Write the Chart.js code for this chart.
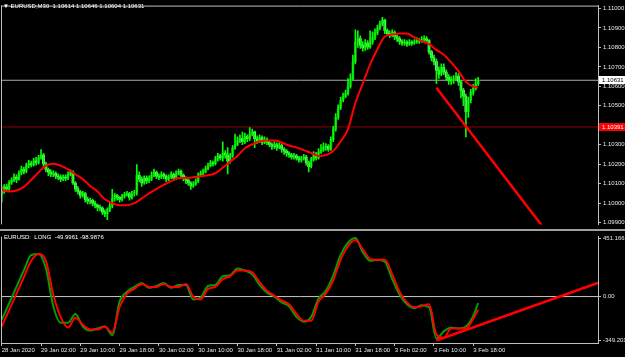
<!DOCTYPE html>
<html>
<head>
<meta charset="utf-8">
<script src="https://cdn.jsdelivr.net/npm/chart.js@4/dist/chart.umd.min.js"></script>
<style>
body { margin: 0; background: #000; width: 625px; height: 357px; overflow: hidden; position: relative; font-family: "Liberation Sans", Arial, sans-serif; }
#priceCanvas { position: absolute; left: 0; top: 0; }
#oscCanvas { position: absolute; left: 0; top: 231px; }
.sep { position: absolute; left: 0; top: 229px; width: 625px; height: 2px; background: #a0a0a0; }
.hdr { position: absolute; color: #fff; font-size: 6px; line-height: 7px; white-space: pre; }
</style>
</head>
<body>
<canvas id="priceCanvas" width="625" height="230"></canvas>
<div class="sep"></div>
<canvas id="oscCanvas" width="625" height="126"></canvas>
<div class="hdr" style="left:3px;top:3px">▼ EURUSD,M30  1.10614 1.10646 1.10604 1.10631</div>
<div class="hdr" style="left:4px;top:234px">EURUSD:  LONG  -49.9961 -98.9876</div>
<script>
// M30 bars, index 0 = 28 Jan 18:00
const opens = [
  1.10045, 1.10063, 1.10083, 1.10073, 1.10103, 1.10118, 1.10133, 1.10123, 1.10153, 1.10173,
  1.10163, 1.10192, 1.10202, 1.10197, 1.10217, 1.10207, 1.10232, 1.10247, 1.10202, 1.10173,
  1.10158, 1.10148, 1.10153, 1.10138, 1.10133, 1.10123, 1.10133, 1.10128, 1.10148, 1.10158,
  1.10103, 1.10073, 1.10058, 1.10039, 1.10049, 1.10019, 1.10009, 1.10014, 1.09999, 1.09989,
  1.09979, 1.09974, 1.09954, 1.09945, 1.09964, 1.09984, 1.10024, 1.10039, 1.10029, 1.10019,
  1.10034, 1.10044, 1.10049, 1.10029, 1.10049, 1.10054, 1.10143, 1.10123, 1.10103, 1.10128,
  1.10113, 1.10123, 1.10143, 1.10158, 1.10138, 1.10133, 1.10148, 1.10138, 1.10123, 1.10133,
  1.10148, 1.10128, 1.10153, 1.10163, 1.10143, 1.10128, 1.10118, 1.10103, 1.10088, 1.10098,
  1.10113, 1.10143, 1.10153, 1.10163, 1.10177, 1.10192, 1.10207, 1.10202, 1.10227, 1.10242,
  1.10232, 1.10257, 1.10247, 1.10217, 1.10242, 1.10282, 1.10301, 1.10321, 1.10331, 1.10316,
  1.10341, 1.10331, 1.10356, 1.10366, 1.10331, 1.10321, 1.10336, 1.10311, 1.10326, 1.10311,
  1.10301, 1.10291, 1.10301, 1.10286, 1.10296, 1.10277, 1.10267, 1.10257, 1.10247, 1.10237,
  1.10242, 1.10232, 1.10222, 1.10227, 1.10237, 1.10207, 1.10187, 1.10222, 1.10247, 1.10232,
  1.10262, 1.10272, 1.10286, 1.10291, 1.10277, 1.10326, 1.10381, 1.10440, 1.10490, 1.10529,
  1.10549, 1.10564, 1.10599, 1.10638, 1.10727, 1.10827, 1.10846, 1.10812, 1.10797, 1.10822,
  1.10802, 1.10827, 1.10851, 1.10876, 1.10901, 1.10921, 1.10941, 1.10886, 1.10871, 1.10861,
  1.10876, 1.10856, 1.10846, 1.10832, 1.10822, 1.10827, 1.10817, 1.10827, 1.10822, 1.10827,
  1.10836, 1.10832, 1.10841, 1.10846, 1.10836, 1.10777, 1.10747, 1.10727, 1.10683, 1.10663,
  1.10698, 1.10673, 1.10648, 1.10633, 1.10628, 1.10638, 1.10653, 1.10623, 1.10579, 1.10549,
  1.10470, 1.10529, 1.10569, 1.10589, 1.10614
]
const highs = [
  1.10085, 1.10095, 1.10098, 1.10115, 1.10130, 1.10150, 1.10145, 1.10165, 1.10190, 1.10185,
  1.10205, 1.10220, 1.10215, 1.10230, 1.10235, 1.10245, 1.10275, 1.10255, 1.10210, 1.10180,
  1.10170, 1.10165, 1.10160, 1.10150, 1.10145, 1.10145, 1.10145, 1.10160, 1.10170, 1.10165,
  1.10110, 1.10085, 1.10065, 1.10060, 1.10055, 1.10030, 1.10025, 1.10020, 1.10010, 1.09995,
  1.09990, 1.09980, 1.09965, 1.09975, 1.10000, 1.10070, 1.10050, 1.10045, 1.10035, 1.10045,
  1.10055, 1.10060, 1.10055, 1.10060, 1.10065, 1.10197, 1.10160, 1.10135, 1.10140, 1.10140,
  1.10140, 1.10160, 1.10175, 1.10165, 1.10150, 1.10160, 1.10155, 1.10145, 1.10145, 1.10160,
  1.10155, 1.10165, 1.10175, 1.10170, 1.10150, 1.10135, 1.10125, 1.10110, 1.10110, 1.10125,
  1.10155, 1.10165, 1.10175, 1.10190, 1.10205, 1.10220, 1.10215, 1.10240, 1.10255, 1.10250,
  1.10315, 1.10270, 1.10285, 1.10255, 1.10295, 1.10355, 1.10340, 1.10350, 1.10365, 1.10360,
  1.10350, 1.10388, 1.10380, 1.10370, 1.10345, 1.10350, 1.10345, 1.10340, 1.10335, 1.10320,
  1.10310, 1.10315, 1.10310, 1.10310, 1.10305, 1.10285, 1.10275, 1.10265, 1.10255, 1.10255,
  1.10250, 1.10240, 1.10240, 1.10250, 1.10245, 1.10215, 1.10235, 1.10265, 1.10260, 1.10280,
  1.10300, 1.10310, 1.10305, 1.10300, 1.10340, 1.10395, 1.10460, 1.10505, 1.10545, 1.10565,
  1.10580, 1.10640, 1.10665, 1.10760, 1.10890, 1.10885, 1.10860, 1.10830, 1.10840, 1.10835,
  1.10885, 1.10880, 1.10895, 1.10915, 1.10935, 1.10955, 1.10945, 1.10895, 1.10885, 1.10890,
  1.10885, 1.10865, 1.10855, 1.10840, 1.10840, 1.10835, 1.10840, 1.10835, 1.10840, 1.10850,
  1.10845, 1.10855, 1.10860, 1.10855, 1.10840, 1.10785, 1.10760, 1.10740, 1.10700, 1.10715,
  1.10715, 1.10685, 1.10660, 1.10650, 1.10655, 1.10670, 1.10665, 1.10630, 1.10590, 1.10560,
  1.10545, 1.10585, 1.10610, 1.10640, 1.10646
]
const lows = [
  1.10005, 1.10050, 1.10060, 1.10065, 1.10095, 1.10110, 1.10105, 1.10118, 1.10145, 1.10150,
  1.10155, 1.10180, 1.10185, 1.10190, 1.10195, 1.10200, 1.10225, 1.10190, 1.10160, 1.10140,
  1.10135, 1.10135, 1.10125, 1.10120, 1.10110, 1.10115, 1.10115, 1.10120, 1.10140, 1.10095,
  1.10060, 1.10045, 1.10025, 1.10030, 1.10005, 1.09995, 1.09995, 1.09985, 1.09975, 1.09960,
  1.09960, 1.09940, 1.09930, 1.09915, 1.09955, 1.09975, 1.10010, 1.10015, 1.10005, 1.10010,
  1.10025, 1.10035, 1.10015, 1.10020, 1.10035, 1.10040, 1.10110, 1.10085, 1.10095, 1.10100,
  1.10105, 1.10115, 1.10135, 1.10125, 1.10120, 1.10125, 1.10125, 1.10110, 1.10115, 1.10125,
  1.10115, 1.10120, 1.10145, 1.10130, 1.10115, 1.10100, 1.10090, 1.10070, 1.10080, 1.10090,
  1.10105, 1.10135, 1.10145, 1.10155, 1.10170, 1.10185, 1.10190, 1.10195, 1.10215, 1.10220,
  1.10215, 1.10230, 1.10150, 1.10205, 1.10235, 1.10275, 1.10295, 1.10310, 1.10300, 1.10305,
  1.10315, 1.10320, 1.10345, 1.10285, 1.10305, 1.10310, 1.10300, 1.10305, 1.10300, 1.10290,
  1.10275, 1.10280, 1.10270, 1.10280, 1.10260, 1.10250, 1.10240, 1.10235, 1.10225, 1.10225,
  1.10220, 1.10210, 1.10210, 1.10220, 1.10195, 1.10160, 1.10180, 1.10215, 1.10220, 1.10225,
  1.10255, 1.10265, 1.10270, 1.10265, 1.10270, 1.10315, 1.10370, 1.10430, 1.10480, 1.10520,
  1.10540, 1.10555, 1.10590, 1.10630, 1.10715, 1.10800, 1.10795, 1.10780, 1.10785, 1.10790,
  1.10795, 1.10815, 1.10840, 1.10865, 1.10890, 1.10910, 1.10870, 1.10860, 1.10850, 1.10855,
  1.10840, 1.10830, 1.10815, 1.10810, 1.10810, 1.10805, 1.10810, 1.10810, 1.10815, 1.10820,
  1.10820, 1.10825, 1.10830, 1.10825, 1.10765, 1.10730, 1.10710, 1.10615, 1.10640, 1.10655,
  1.10660, 1.10630, 1.10610, 1.10610, 1.10615, 1.10630, 1.10605, 1.10540, 1.10500, 1.10340,
  1.10440, 1.10515, 1.10555, 1.10580, 1.10604
]
const closes = [
  1.10063, 1.10083, 1.10073, 1.10103, 1.10118, 1.10133, 1.10123, 1.10153, 1.10173, 1.10163,
  1.10192, 1.10202, 1.10197, 1.10217, 1.10207, 1.10232, 1.10247, 1.10202, 1.10173, 1.10158,
  1.10148, 1.10153, 1.10138, 1.10133, 1.10123, 1.10133, 1.10128, 1.10148, 1.10158, 1.10103,
  1.10073, 1.10058, 1.10039, 1.10049, 1.10019, 1.10009, 1.10014, 1.09999, 1.09989, 1.09979,
  1.09974, 1.09954, 1.09945, 1.09964, 1.09984, 1.10024, 1.10039, 1.10029, 1.10019, 1.10034,
  1.10044, 1.10049, 1.10029, 1.10049, 1.10054, 1.10143, 1.10123, 1.10103, 1.10128, 1.10113,
  1.10123, 1.10143, 1.10158, 1.10138, 1.10133, 1.10148, 1.10138, 1.10123, 1.10133, 1.10148,
  1.10128, 1.10153, 1.10163, 1.10143, 1.10128, 1.10118, 1.10103, 1.10088, 1.10098, 1.10113,
  1.10143, 1.10153, 1.10163, 1.10177, 1.10192, 1.10207, 1.10202, 1.10227, 1.10242, 1.10232,
  1.10257, 1.10247, 1.10217, 1.10242, 1.10282, 1.10301, 1.10321, 1.10331, 1.10316, 1.10341,
  1.10331, 1.10356, 1.10366, 1.10331, 1.10321, 1.10336, 1.10311, 1.10326, 1.10311, 1.10301,
  1.10291, 1.10301, 1.10286, 1.10296, 1.10277, 1.10267, 1.10257, 1.10247, 1.10237, 1.10242,
  1.10232, 1.10222, 1.10227, 1.10237, 1.10207, 1.10187, 1.10222, 1.10247, 1.10232, 1.10262,
  1.10272, 1.10286, 1.10291, 1.10277, 1.10326, 1.10381, 1.10440, 1.10490, 1.10529, 1.10549,
  1.10564, 1.10599, 1.10638, 1.10727, 1.10827, 1.10846, 1.10812, 1.10797, 1.10822, 1.10802,
  1.10827, 1.10851, 1.10876, 1.10901, 1.10921, 1.10941, 1.10886, 1.10871, 1.10861, 1.10876,
  1.10856, 1.10846, 1.10832, 1.10822, 1.10827, 1.10817, 1.10827, 1.10822, 1.10827, 1.10836,
  1.10832, 1.10841, 1.10846, 1.10836, 1.10777, 1.10747, 1.10727, 1.10683, 1.10663, 1.10698,
  1.10673, 1.10648, 1.10633, 1.10628, 1.10638, 1.10653, 1.10623, 1.10579, 1.10549, 1.10470,
  1.10529, 1.10569, 1.10589, 1.10614, 1.10631
]

// moving average and oscillator, read every 3rd bar
const maValues = [
  1.10068, 1.10059, 1.10064, 1.10083, 1.10118, 1.10158, 1.10192, 1.10202, 1.10192, 1.10173,
  1.10148, 1.10123, 1.10088, 1.10059, 1.10019, 1.09999, 1.09989, 1.09989, 1.09999, 1.10024,
  1.10049, 1.10073, 1.10093, 1.10113, 1.10128, 1.10128, 1.10133, 1.10138, 1.10143, 1.10153,
  1.10182, 1.10212, 1.10242, 1.10282, 1.10301, 1.10316, 1.10321, 1.10321, 1.10311, 1.10296,
  1.10286, 1.10272, 1.10257, 1.10242, 1.10247, 1.10267, 1.10316, 1.10380, 1.10514, 1.10614,
  1.10713, 1.10792, 1.10856, 1.10866, 1.10871, 1.10871, 1.10851, 1.10832, 1.10817, 1.10787,
  1.10762, 1.10723, 1.10678, 1.10623, 1.10599, 1.10594
]
const greenOsc = [
  -174.6, -50.9, 72.8, 196.5, 312.9, 320.1, 211.0, -72.8, -196.5, -196.5,
  -131.0, -225.6, -254.7, -240.1, -225.6, -290.0, -36.4, 36.4, 72.8, 101.9,
  65.5, 80.0, 101.9, 65.5, 87.3, 87.3, -21.8, -7.3, 80.0, 87.3,
  152.8, 160.1, 211.0, 196.5, 167.3, 87.3, 29.1, 0, -43.7, -72.8,
  -152.8, -189.2, -152.8, -14.6, 43.7, 160.1, 312.9, 405.0, 440.0, 334.7,
  269.2, 276.5, 261.9, 131.0, 14.6, -58.2, -87.3, -65.5, -80.0, -315.0,
  -262.0, -232.8, -240.1, -225.6, -145.5, -49.9961
]
const redOsc = [
  -225.6, -101.9, 21.8, 145.5, 269.2, 320.1, 269.2, 14.6, -152.8, -232.8,
  -160.1, -211.0, -247.4, -247.4, -225.6, -270.0, -80.0, 21.8, 58.2, 94.6,
  72.8, 72.8, 94.6, 72.8, 72.8, 94.6, 0, -21.8, 58.2, 72.8,
  131.0, 152.8, 196.5, 196.5, 181.9, 109.1, 43.7, 7.3, -29.1, -58.2,
  -131.0, -181.9, -181.9, -36.4, 21.8, 123.7, 276.5, 378.4, 425.0, 356.5,
  283.8, 276.5, 276.5, 167.3, 36.4, -43.7, -80.0, -72.8, -58.2, -285.0,
  -310.0, -240.1, -240.1, -240.1, -167.3, -98.9876
]

const bidPrice = 1.10631
const levelPrice = 1.10391
const priceTrend = [{x: 177, y: 1.10592}, {x: 222, y: 1.09850}]
const oscTrend = [{x: 177, y: -330}, {x: 243, y: 104}]

const priceTicks = [1.11, 1.109, 1.108, 1.107, 1.106, 1.105, 1.104, 1.103, 1.102, 1.101, 1.100, 1.099]
const oscTickValues = [434.4, 0, -332.5]
const oscTickLabels = ['451.166', '0.00', '-349.201']
const timeBars = [0, 16, 32, 48, 64, 80, 96, 112, 128, 144, 160, 176, 192]
const timeLabels = ['28 Jan 2020', '29 Jan 02:00', '29 Jan 10:00', '29 Jan 18:00', '30 Jan 02:00',
  '30 Jan 10:00', '30 Jan 18:00', '31 Jan 02:00', '31 Jan 10:00', '31 Jan 18:00',
  '3 Feb 02:00', '3 Feb 10:00', '3 Feb 18:00']

const xMin = -0.3
const xMax = 242.8
const axisColor = '#c0c0c0'
const textColor = '#e8e8e8'
const tickFont = {family: 'Liberation Sans', size: 6}

let lineBars = []
for (let i = 0; i <= 192; i += 3) lineBars.push(i)
lineBars.push(194)


// chart frame lines + price tags on the right axis
const frame = {
    id: 'frame',
    afterDraw(chart, args, opts) {
        const ctx = chart.ctx
        const a = chart.chartArea
        ctx.save()
        ctx.strokeStyle = axisColor
        ctx.lineWidth = 1
        ctx.beginPath()
        if (opts.top) {
            ctx.moveTo(a.left, a.top + 0.5)
            ctx.lineTo(a.right, a.top + 0.5)
        }
        ctx.moveTo(a.left + 0.5, a.top)
        ctx.lineTo(a.left + 0.5, a.bottom)
        ctx.stroke()

        let tags = opts.tags || []
        tags.forEach(t => {
            let y = chart.scales.y.getPixelForValue(t.value)
            ctx.fillStyle = t.bg
            ctx.fillRect(a.right + 1, Math.round(y) - 4, 27, 8)
            ctx.fillStyle = t.fg
            ctx.font = '6px "Liberation Sans"'
            ctx.textBaseline = 'middle'
            ctx.textAlign = 'left'
            ctx.fillText(t.value.toFixed(5), a.right + 4, Math.round(y))
        })
        ctx.restore()
    }
}


function yAxis(extra) {
    return Object.assign({
        type: 'linear',
        position: 'right',
        afterFit: function (scale) { scale.width = 27 },
        ticks: {color: textColor, font: tickFont, padding: 2},
        grid: {drawOnChartArea: false, drawTicks: true, tickLength: 3, color: axisColor},
        border: {display: true, color: axisColor}
    }, extra)
}


function initPrice() {

    let wickData = highs.map((h, i) => ({x: i, y: [lows[i], h]}))
    let bodyData = opens.map((o, i) => ({x: i, y: [o, closes[i]]}))
    // green-on-black scheme: bull body dark, bear body light
    let bodyColors = opens.map((o, i) => closes[i] >= o ? '#119a11' : '#b8ffb8')
    let maData = maValues.map((v, i) => ({x: lineBars[i], y: v}))

    new Chart(document.getElementById('priceCanvas'), {
        type: 'bar',
        data: {
            datasets: [
                {type: 'line', data: [{x: xMin, y: bidPrice}, {x: xMax, y: bidPrice}],
                    borderColor: '#a8a8a8', borderWidth: 1, pointRadius: 0, order: 6},
                {type: 'line', data: [{x: xMin, y: levelPrice}, {x: xMax, y: levelPrice}],
                    borderColor: '#8c0000', borderWidth: 1, pointRadius: 0, order: 5},
                {type: 'bar', data: bodyData, backgroundColor: bodyColors,
                    barThickness: 2, minBarLength: 1, grouped: false, order: 4},
                {type: 'bar', data: wickData, backgroundColor: '#00ff00',
                    barThickness: 1, grouped: false, order: 3},
                {type: 'line', data: maData, borderColor: '#ff0000', borderWidth: 2,
                    pointRadius: 0, cubicInterpolationMode: 'monotone', order: 1},
                {type: 'line', data: priceTrend, borderColor: '#ff0000', borderWidth: 2.5,
                    pointRadius: 0, order: 0}
            ]
        },
        options: {
            responsive: false,
            animation: false,
            layout: {padding: {left: 1, top: 2, right: 0, bottom: 1}},
            plugins: {
                legend: {display: false},
                tooltip: {enabled: false},
                frame: {
                    top: true,
                    tags: [
                        {value: levelPrice, bg: '#ff0000', fg: '#ffffff'},
                        {value: bidPrice, bg: '#ffffff', fg: '#000000'}
                    ]
                }
            },
            scales: {
                x: {type: 'linear', min: xMin, max: xMax, offset: false, display: false},
                y: yAxis({
                    min: 1.098901,
                    max: 1.110149,
                    afterBuildTicks: function (scale) { scale.ticks = priceTicks.map(v => ({value: v})) },
                    ticks: {color: textColor, font: tickFont, padding: 2, callback: v => Number(v).toFixed(5)}
                })
            }
        },
        plugins: [frame]
    })
}


function initOsc() {

    let greenData = greenOsc.map((v, i) => ({x: lineBars[i], y: v}))
    let redData = redOsc.map((v, i) => ({x: lineBars[i], y: v}))

    new Chart(document.getElementById('oscCanvas'), {
        type: 'line',
        data: {
            datasets: [
                {data: [{x: xMin, y: 0}, {x: xMax, y: 0}], borderColor: '#c8c8c8',
                    borderWidth: 1, pointRadius: 0, order: 4},
                {data: greenData, borderColor: '#00a000', borderWidth: 2, pointRadius: 0,
                    cubicInterpolationMode: 'monotone', order: 3},
                {data: redData, borderColor: '#ff0000', borderWidth: 2, pointRadius: 0,
                    cubicInterpolationMode: 'monotone', order: 2},
                {data: oscTrend, borderColor: '#ff0000', borderWidth: 2.5, pointRadius: 0, order: 0}
            ]
        },
        options: {
            responsive: false,
            animation: false,
            layout: {padding: {left: 1, top: 2, right: 0, bottom: 0}},
            plugins: {
                legend: {display: false},
                tooltip: {enabled: false},
                frame: {top: false}
            },
            scales: {
                x: {
                    type: 'linear',
                    min: xMin,
                    max: xMax,
                    offset: false,
                    position: 'bottom',
                    afterFit: function (scale) { scale.height = 14 },
                    afterBuildTicks: function (scale) { scale.ticks = timeBars.map(v => ({value: v})) },
                    ticks: {
                        color: textColor, font: tickFont, padding: 1, align: 'start',
                        autoSkip: false, maxRotation: 0,
                        callback: (v, idx) => timeLabels[idx]
                    },
                    grid: {drawOnChartArea: false, drawTicks: true, tickLength: 3, color: axisColor},
                    border: {display: true, color: axisColor}
                },
                y: yAxis({
                    min: -349.201,
                    max: 451.166,
                    // MT4 keeps the max/min labels just inside the window
                    afterBuildTicks: function (scale) { scale.ticks = oscTickValues.map(v => ({value: v})) },
                    ticks: {color: textColor, font: tickFont, padding: 2, callback: (v, idx) => oscTickLabels[idx]}
                })
            }
        },
        plugins: [frame]
    })
}


initPrice()
initOsc()
</script>
</body>
</html>
